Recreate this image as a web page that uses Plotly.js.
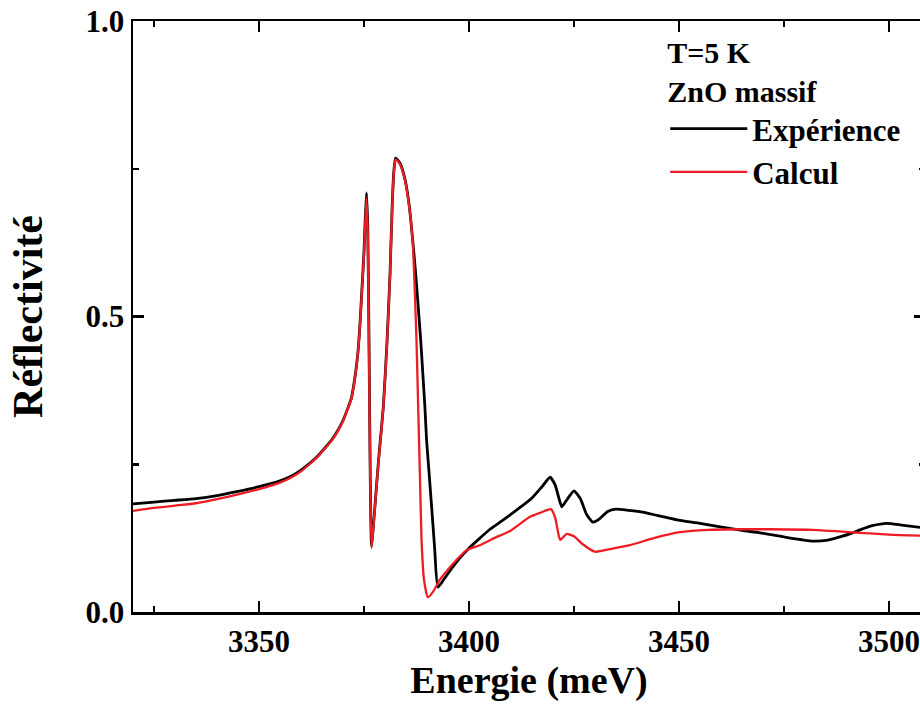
<!DOCTYPE html>
<html>
<head>
<meta charset="utf-8">
<script src="https://cdn.plot.ly/plotly-3.0.1.min.js"></script>
<style>
html, body { margin: 0; padding: 0; overflow: hidden; background: #fff; }
#chart { width: 930px; height: 706px; }
</style>
</head>
<body>
<div id="chart"></div>
<script>
// Expérience (black)
const expEnergy = [3320, 3325, 3330, 3335, 3340, 3345, 3350, 3355, 3358, 3360, 3362, 3364, 3366, 3367.5, 3369, 3370, 3371, 3372, 3372.8, 3373.5, 3374, 3374.5, 3375, 3375.3, 3375.6, 3375.9, 3376.2, 3376.5, 3376.8, 3377.5, 3378.5, 3379.6, 3380.5, 3381.2, 3381.7, 3382.1, 3382.5, 3383.0, 3383.6, 3384.8, 3385.8, 3386.6, 3387.3, 3387.9, 3388.5, 3389.0, 3389.5, 3389.9, 3390.5, 3391.1, 3391.8, 3392.6, 3394, 3396, 3398, 3400, 3402.6, 3405, 3408, 3412, 3415, 3417.5, 3419.3, 3420.5, 3421.5, 3422.1, 3423.5, 3425, 3426.5, 3428, 3429.5, 3431, 3433, 3435, 3438, 3441.4, 3445, 3449.5, 3455, 3459.8, 3465, 3469.3, 3475, 3481.9, 3485, 3488.3, 3491, 3493.1, 3496, 3499.5, 3503, 3508.6];
const expRefl = [0.183, 0.186, 0.189, 0.192, 0.197, 0.204, 0.212, 0.222, 0.231, 0.240, 0.251, 0.264, 0.280, 0.293, 0.310, 0.324, 0.342, 0.362, 0.395, 0.435, 0.482, 0.545, 0.610, 0.665, 0.709, 0.650, 0.450, 0.220, 0.112, 0.170, 0.260, 0.347, 0.460, 0.573, 0.685, 0.745, 0.768, 0.765, 0.759, 0.731, 0.686, 0.629, 0.573, 0.517, 0.460, 0.404, 0.347, 0.291, 0.235, 0.178, 0.110, 0.042, 0.055, 0.075, 0.093, 0.108, 0.125, 0.140, 0.155, 0.176, 0.193, 0.213, 0.228, 0.215, 0.190, 0.178, 0.192, 0.205, 0.192, 0.165, 0.152, 0.157, 0.170, 0.174, 0.172, 0.169, 0.163, 0.156, 0.150, 0.144, 0.138, 0.134, 0.127, 0.120, 0.121, 0.127, 0.133, 0.139, 0.146, 0.150, 0.147, 0.142];

// Calcul (red)
const calcEnergy = [3320, 3325, 3330, 3335, 3340, 3345, 3350, 3355, 3358, 3360, 3362, 3364, 3366, 3367.5, 3369, 3370, 3371, 3372, 3372.8, 3373.5, 3374, 3374.5, 3375, 3375.3, 3375.6, 3375.9, 3376.2, 3376.5, 3376.8, 3377.5, 3378.5, 3379.6, 3380.5, 3381.2, 3381.7, 3382.1, 3382.5, 3383.0, 3383.6, 3384.8, 3385.8, 3386.6, 3387.0, 3387.5, 3387.9, 3388.3, 3388.7, 3389.3, 3390.2, 3391.5, 3393, 3395, 3397, 3399.5, 3402.6, 3406, 3410, 3414.5, 3417, 3419.5, 3420.5, 3421.2, 3421.7, 3423.3, 3425, 3427, 3430, 3434, 3438.3, 3444, 3450.2, 3457, 3464.5, 3472, 3481.9, 3493, 3500, 3508.6];
const calcRefl = [0.171, 0.176, 0.180, 0.184, 0.191, 0.199, 0.208, 0.219, 0.229, 0.238, 0.250, 0.263, 0.279, 0.292, 0.309, 0.323, 0.341, 0.361, 0.394, 0.434, 0.480, 0.542, 0.605, 0.655, 0.700, 0.640, 0.440, 0.215, 0.108, 0.168, 0.258, 0.345, 0.458, 0.571, 0.683, 0.743, 0.766, 0.763, 0.757, 0.729, 0.684, 0.627, 0.560, 0.460, 0.347, 0.235, 0.122, 0.054, 0.025, 0.035, 0.054, 0.072, 0.088, 0.105, 0.113, 0.125, 0.138, 0.161, 0.168, 0.174, 0.160, 0.135, 0.122, 0.132, 0.128, 0.115, 0.102, 0.107, 0.113, 0.125, 0.135, 0.139, 0.140, 0.140, 0.139, 0.134, 0.131, 0.129];

const xTickVals = [3350, 3400, 3450, 3500];
const yTickVals = [0.0, 0.5, 1.0];

const serif = '"Liberation Serif", "Times New Roman", serif';

const traces = [
  { x: expEnergy, y: expRefl, name: 'Expérience', mode: 'lines', type: 'scatter',
    line: { color: '#000000', width: 2.8, shape: 'spline', smoothing: 0.5 } },
  { x: calcEnergy, y: calcRefl, name: 'Calcul', mode: 'lines', type: 'scatter',
    line: { color: '#ee1c24', width: 2.3, shape: 'spline', smoothing: 0.5 } }
];

const axisCommon = {
  showline: true, linecolor: '#000', linewidth: 2.5,
  mirror: 'allticks', ticks: 'inside', ticklen: 11, tickwidth: 2.5, tickcolor: '#000',
  showgrid: false, zeroline: false,
  tickfont: { family: serif, size: 31, color: '#000', weight: 'bold' }
};

const layout = {
  width: 930, height: 706,
  margin: { l: 133, r: 5, t: 21, b: 94 },
  paper_bgcolor: '#fff', plot_bgcolor: '#fff',
  showlegend: true,
  legend: {
    x: 0.672, y: 0.995, xanchor: 'left', yanchor: 'top',
    bgcolor: 'rgba(0,0,0,0)',
    font: { family: serif, size: 31, color: '#000', weight: 'bold' },
    itemwidth: 77, tracegroupgap: 0,
    title: { text: 'T=5 K<br>ZnO massif', side: 'top',
             font: { family: serif, size: 30, color: '#000', weight: 'bold' } }
  },
  xaxis: Object.assign({}, axisCommon, {
    range: [3320, 3508.57],
    tickvals: xTickVals,
    ticktext: xTickVals.map(String),
    minor: { dtick: 25, tick0: 3325, ticks: 'inside', ticklen: 6, tickwidth: 2.5, tickcolor: '#000' },
    title: { text: 'Energie (meV)', standoff: 8,
             font: { family: serif, size: 38, color: '#000', weight: 'bold' } }
  }),
  yaxis: Object.assign({}, axisCommon, {
    range: [0, 1],
    tickvals: yTickVals,
    ticktext: yTickVals.map(v => v.toFixed(1)),
    minor: { dtick: 0.25, tick0: 0, ticks: 'inside', ticklen: 6, tickwidth: 2.5, tickcolor: '#000' },
    title: { text: 'Réflectivité', standoff: 30,
             font: { family: serif, size: 42, color: '#000', weight: 'bold' } }
  })
};

Plotly.newPlot('chart', traces, layout, { displayModeBar: false, staticPlot: true });
</script>
</body>
</html>
